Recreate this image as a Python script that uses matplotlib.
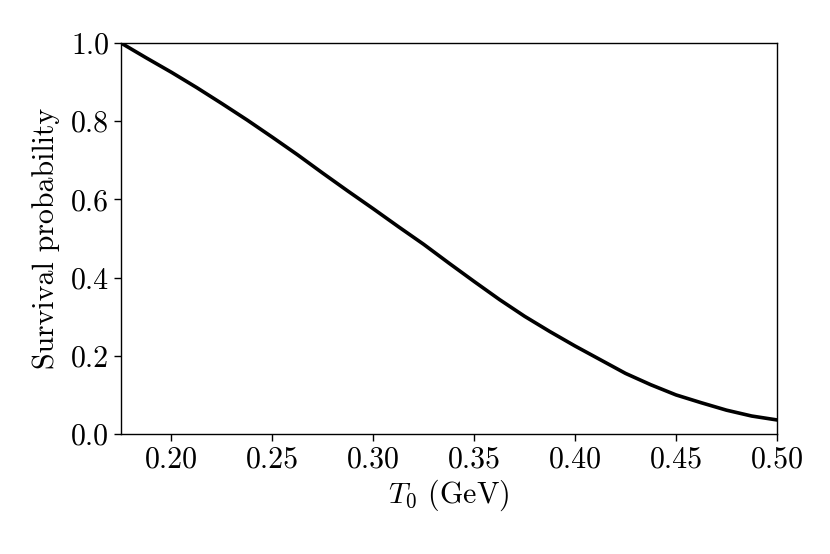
import matplotlib
matplotlib.use("Agg")
import matplotlib.pyplot as plt

# values
t0_gev = [0.175, 0.1875, 0.2, 0.2125, 0.225, 0.2375, 0.25, 0.2625, 0.275, 0.2875,
          0.3, 0.3125, 0.325, 0.3375, 0.35, 0.3625, 0.375, 0.3875, 0.4, 0.4125,
          0.425, 0.4375, 0.45, 0.4625, 0.475, 0.4875, 0.5]
survival = [1.0, 0.962, 0.925, 0.886, 0.845, 0.803, 0.759, 0.714, 0.667, 0.621,
            0.576, 0.530, 0.485, 0.437, 0.390, 0.344, 0.301, 0.262, 0.225, 0.190,
            0.155, 0.126, 0.100, 0.080, 0.061, 0.046, 0.036]

x_ticks = [0.20, 0.25, 0.30, 0.35, 0.40, 0.45, 0.50]
y_ticks = [0.0, 0.2, 0.4, 0.6, 0.8, 1.0]

plt.rcParams['font.family'] = 'serif'
plt.rcParams['font.serif'] = ['cmr10']
plt.rcParams['mathtext.fontset'] = 'cm'
plt.rcParams['axes.formatter.use_mathtext'] = True

fig = plt.figure(figsize=(8.3, 5.54), dpi=100)
ax = fig.add_axes([0.1458, 0.2166, 0.936 - 0.1458, 0.9224 - 0.2166])

ax.plot(t0_gev, survival, color='black', linewidth=2.6)

ax.set_xlim(0.175, 0.5)
ax.set_ylim(0.0, 1.0)
ax.set_xticks(x_ticks)
ax.set_xticklabels([f"{v:.2f}" for v in x_ticks])
ax.set_yticks(y_ticks)
ax.set_yticklabels([f"{v:.1f}" for v in y_ticks])
ax.tick_params(labelsize=21.5, length=5, width=1)
for s in ax.spines.values():
    s.set_linewidth(1)

ax.set_xlabel(r"$T_0$ (GeV)", fontsize=21.5, labelpad=3)
ax.set_ylabel("Survival probability", fontsize=21.5, labelpad=8)

fig.savefig("out.png", dpi=100)
